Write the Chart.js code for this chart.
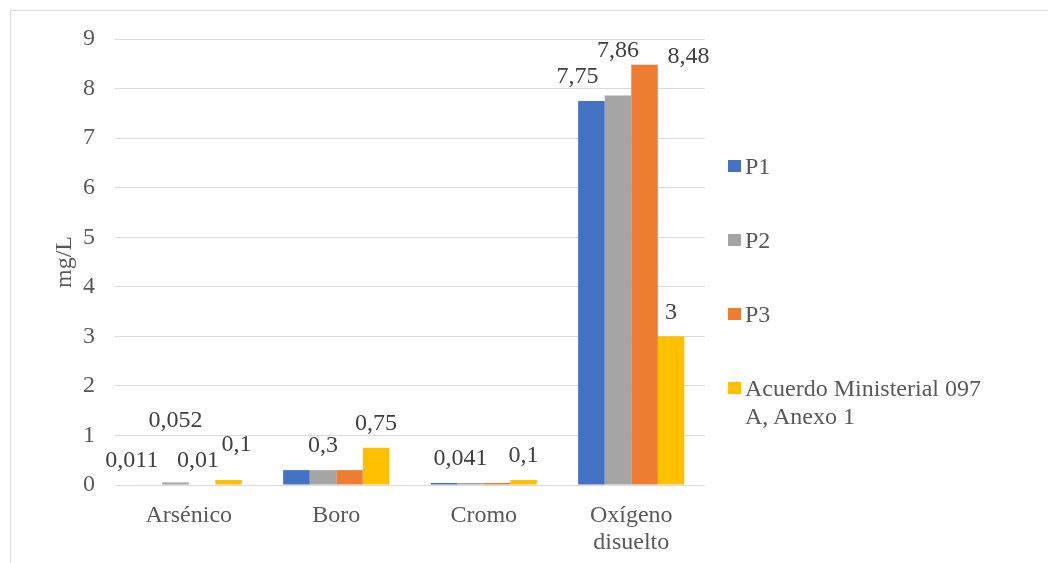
<!DOCTYPE html>
<html>
<head>
<meta charset="utf-8">
<script src="https://cdn.jsdelivr.net/npm/chart.js@4/dist/chart.umd.min.js"></script>
<style>
  html, body { margin: 0; padding: 0; background: #fff; }
  #wrap { position: relative; width: 1048px; height: 563px; overflow: hidden; }
  #frame { position: absolute; left: 10px; top: 10px; width: 1100px; height: 600px;
           border-top: 1px solid #d9d9d9; border-left: 1px solid #d9d9d9; }
  canvas { position: absolute; left: 0; top: 0; }
  #legend { position: absolute; left: 728px; top: 152px; font-family: "Liberation Serif", "Times New Roman", serif;
            font-size: 24px; line-height: 28px; color: #595959; }
  .item { position: relative; padding-left: 17px; margin-bottom: 46px; width: 300px; }
  .box { position: absolute; left: 0; top: 8px; width: 13px; height: 12px; }
</style>
</head>
<body>
<div id="wrap">
  <div id="frame"></div>
  <canvas id="chart" width="1048" height="563"></canvas>
  <div id="legend"></div>
</div>
<script>
// Parámetros medidos (mg/L)
const categories = ['Arsénico', 'Boro', 'Cromo', ['Oxígeno', 'disuelto']];
const seriesNames = ['P1', 'P2', 'P3', ['Acuerdo Ministerial 097', 'A, Anexo 1']];
const p1 = [0.011, 0.3, 0.041, 7.75];
const p2 = [0.052, 0.3, 0.041, 7.86];
const p3 = [0.01, 0.3, 0.041, 8.48];
const limite = [0.1, 0.75, 0.1, 3];
const yTicks = [0, 1, 2, 3, 4, 5, 6, 7, 8, 9];

const colors = ['#4472C4', '#A5A5A5', '#ED7D31', '#FFC000'];
const FONT = '"Liberation Serif", "Times New Roman", serif';
const FS = 24;

// Which value labels are shown, and small nudges so they don't collide
const labelShown = [
  [true, false, false, true],
  [true, true, true, true],
  [true, false, false, true],
  [true, true, true, true]
];
const labelNudge = [
  [[-17, 0], [0, 0], [0, 0], [-14, 0]],
  [[0, -38], [0, 0], [-10, 0], [0, -21]],
  [[-4, 0], [0, 0], [0, 0], [44, 16]],
  [[8, -11], [0, 0], [0, 0], [0, 0]]
];

const valueLabels = {
  id: 'valueLabels',
  afterDatasetsDraw(chart) {
    const ctx = chart.ctx;
    ctx.save();
    ctx.font = FS + 'px ' + FONT;
    ctx.fillStyle = '#404040';
    ctx.textAlign = 'center';
    ctx.textBaseline = 'middle';
    chart.data.datasets.forEach((ds, di) => {
      const meta = chart.getDatasetMeta(di);
      meta.data.forEach((bar, i) => {
        if (!labelShown[di][i]) return;
        const [dx, dy] = labelNudge[di][i];
        const txt = String(ds.data[i]).replace('.', ',');
        ctx.fillText(txt, bar.x + dx, bar.y - 24 + dy);
      });
    });
    ctx.restore();
  }
};

const series = [p1, p2, p3, limite];
const chart = new Chart(document.getElementById('chart'), {
  type: 'bar',
  data: {
    labels: categories,
    datasets: series.map((d, k) => ({
      label: Array.isArray(seriesNames[k]) ? seriesNames[k].join(' ') : seriesNames[k],
      data: d,
      backgroundColor: colors[k],
      borderWidth: 0,
      categoryPercentage: 0.72,
      barPercentage: 1
    }))
  },
  options: {
    responsive: false,
    animation: false,
    layout: { padding: { left: 0, top: 39, right: 343, bottom: 0 } },
    plugins: { legend: { display: false }, tooltip: { enabled: false } },
    scales: {
      x: {
        grid: { display: false },
        border: { display: false },
        ticks: { font: { family: FONT, size: FS, lineHeight: 1.1 }, color: '#595959', padding: 10, maxRotation: 0 },
        afterFit(s) { s.height = 78; }
      },
      y: {
        min: 0, max: 9,
        afterBuildTicks(s) { s.ticks = yTicks.map(v => ({ value: v })); },
        grid: { color: '#d9d9d9', lineWidth: 1, drawTicks: false },
        border: { display: false },
        ticks: { font: { family: FONT, size: FS }, color: '#595959', padding: 20 },
        title: { display: true, text: 'mg/L', font: { family: FONT, size: FS }, color: '#595959',
                 padding: { top: 50, bottom: 0 } },
        afterFit(s) { s.width = 115; }
      }
    }
  },
  plugins: [valueLabels]
});

// Legend built from the datasets
const legend = document.getElementById('legend');
seriesNames.forEach((name, k) => {
  const item = document.createElement('div');
  item.className = 'item';
  const box = document.createElement('span');
  box.className = 'box';
  box.style.background = colors[k];
  item.appendChild(box);
  const lines = Array.isArray(name) ? name : [name];
  lines.forEach(line => {
    const t = document.createElement('div');
    t.textContent = line;
    item.appendChild(t);
  });
  legend.appendChild(item);
});
</script>
</body>
</html>
